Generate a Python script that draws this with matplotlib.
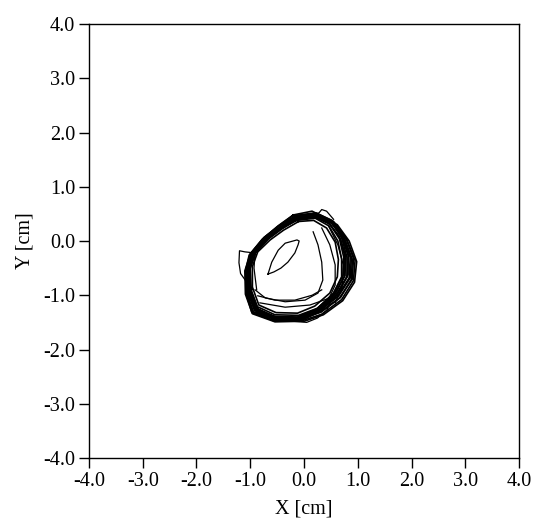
import matplotlib.pyplot as plt
import numpy as np

plt.rcParams['font.family'] = 'Liberation Serif'

# main band of sway loops (cm), clockwise from the top
loop_x = [
    [-0.15, 0.22, 0.52, 0.74, 0.86, 0.84, 0.62, 0.28, -0.10, -0.56, -0.92, -1.06, -1.07, -0.96, -0.70, -0.43],
    [-0.12, 0.20, 0.48, 0.68, 0.78, 0.76, 0.57, 0.25, -0.10, -0.54, -0.87, -1.00, -1.01, -0.90, -0.66, -0.40],
    [-0.18, 0.18, 0.50, 0.72, 0.83, 0.80, 0.60, 0.27, -0.08, -0.52, -0.89, -1.03, -1.04, -0.93, -0.69, -0.44],
    [-0.10, 0.25, 0.55, 0.78, 0.92, 0.90, 0.66, 0.30, -0.05, -0.50, -0.86, -1.01, -1.03, -0.93, -0.68, -0.40],
    [-0.14, 0.21, 0.46, 0.63, 0.70, 0.70, 0.54, 0.24, -0.12, -0.56, -0.90, -1.03, -1.03, -0.92, -0.67, -0.42],
    [-0.16, 0.19, 0.47, 0.66, 0.74, 0.73, 0.55, 0.22, -0.14, -0.58, -0.92, -1.05, -1.06, -0.95, -0.71, -0.45],
    [-0.08, 0.28, 0.58, 0.80, 0.95, 0.92, 0.70, 0.33, -0.04, -0.48, -0.84, -0.98, -1.00, -0.90, -0.66, -0.38],
    [-0.10, 0.18, 0.42, 0.58, 0.64, 0.62, 0.48, 0.20, -0.12, -0.52, -0.84, -0.96, -0.96, -0.86, -0.63, -0.38],
    [-0.20, 0.15, 0.45, 0.70, 0.82, 0.82, 0.62, 0.30, -0.08, -0.54, -0.96, -1.09, -1.10, -1.00, -0.75, -0.48],
    [-0.12, 0.24, 0.52, 0.74, 0.88, 0.86, 0.64, 0.28, -0.08, -0.52, -0.94, -1.06, -1.06, -0.97, -0.72, -0.44],
    [-0.17, 0.20, 0.50, 0.70, 0.80, 0.80, 0.60, 0.26, -0.10, -0.56, -0.97, -1.08, -1.08, -0.98, -0.74, -0.46],
    [-0.06, 0.30, 0.62, 0.84, 0.98, 0.94, 0.72, 0.36, 0.00, -0.46, -0.88, -1.03, -1.04, -0.94, -0.70, -0.40],
    [-0.22, 0.12, 0.42, 0.66, 0.76, 0.76, 0.58, 0.24, -0.14, -0.60, -0.95, -1.07, -1.09, -1.02, -0.78, -0.50],
    [-0.14, 0.22, 0.54, 0.76, 0.90, 0.88, 0.68, 0.32, -0.06, -0.50, -0.90, -1.04, -1.05, -0.95, -0.72, -0.46],
]
loop_y = [
    [0.47, 0.52, 0.38, 0.08, -0.30, -0.68, -1.02, -1.30, -1.45, -1.44, -1.28, -0.92, -0.50, -0.20, 0.09, 0.30],
    [0.40, 0.44, 0.31, 0.04, -0.30, -0.64, -0.97, -1.24, -1.37, -1.36, -1.21, -0.86, -0.48, -0.21, 0.04, 0.23],
    [0.43, 0.49, 0.35, 0.06, -0.28, -0.66, -0.99, -1.27, -1.41, -1.40, -1.25, -0.89, -0.49, -0.22, 0.06, 0.26],
    [0.44, 0.50, 0.36, 0.05, -0.32, -0.70, -1.05, -1.31, -1.44, -1.42, -1.26, -0.90, -0.47, -0.19, 0.07, 0.28],
    [0.38, 0.42, 0.28, 0.00, -0.33, -0.66, -0.98, -1.25, -1.40, -1.39, -1.23, -0.87, -0.47, -0.18, 0.06, 0.23],
    [0.42, 0.46, 0.33, 0.04, -0.30, -0.63, -0.96, -1.27, -1.43, -1.42, -1.26, -0.91, -0.52, -0.23, 0.03, 0.24],
    [0.45, 0.48, 0.32, 0.02, -0.36, -0.73, -1.08, -1.35, -1.47, -1.45, -1.29, -0.93, -0.51, -0.22, 0.05, 0.27],
    [0.36, 0.38, 0.24, -0.02, -0.34, -0.66, -0.96, -1.20, -1.33, -1.32, -1.18, -0.85, -0.47, -0.20, 0.02, 0.20],
    [0.48, 0.55, 0.40, 0.10, -0.26, -0.62, -0.98, -1.30, -1.48, -1.49, -1.34, -0.98, -0.55, -0.24, 0.05, 0.28],
    [0.41, 0.47, 0.34, 0.04, -0.32, -0.68, -1.02, -1.29, -1.42, -1.44, -1.31, -0.96, -0.53, -0.24, 0.04, 0.25],
    [0.45, 0.50, 0.37, 0.06, -0.30, -0.66, -1.00, -1.30, -1.46, -1.47, -1.32, -0.96, -0.52, -0.22, 0.07, 0.28],
    [0.42, 0.46, 0.30, 0.00, -0.38, -0.76, -1.10, -1.36, -1.48, -1.47, -1.32, -0.95, -0.50, -0.20, 0.06, 0.26],
    [0.46, 0.50, 0.38, 0.08, -0.28, -0.64, -0.98, -1.28, -1.44, -1.45, -1.30, -0.97, -0.56, -0.26, 0.03, 0.26],
    [0.39, 0.45, 0.32, 0.03, -0.34, -0.71, -1.04, -1.31, -1.43, -1.41, -1.27, -0.93, -0.50, -0.22, 0.01, 0.21],
]

# inner contours and stray strokes (open paths)
inner_x = [
    [0.17, 0.26, 0.33, 0.35, 0.26, 0.02, -0.35, -0.72, -0.91],
    [0.33, 0.48, 0.58, 0.58, 0.45],
    [0.45, 0.63, 0.73, 0.71, 0.58],
    [-0.86, -0.54, -0.17, 0.15, 0.33],
    [-0.82, -0.35, 0.11, 0.48],
    [-0.91, -0.93, -0.88],
    [-0.92, -1.10, -1.20, -1.21, -1.18, -1.05, -0.95],
    [0.15, 0.28, 0.33, 0.42, 0.55],
    [-0.20, 0.05, 0.25, 0.42, 0.50],
]
inner_y = [
    [0.17, -0.07, -0.39, -0.72, -0.96, -1.09, -1.12, -1.05, -0.90],
    [0.24, -0.07, -0.44, -0.81, -1.09],
    [0.29, -0.07, -0.44, -0.85, -1.14],
    [-1.01, -1.09, -1.09, -1.00, -0.90],
    [-1.14, -1.22, -1.18, -1.05],
    [-0.22, -0.50, -0.90],
    [-0.22, -0.20, -0.18, -0.40, -0.60, -0.78, -0.90],
    [0.48, 0.52, 0.58, 0.55, 0.40],
    [-1.48, -1.50, -1.42, -1.28, -1.12],
]

# small closed loop ("eye") inside
eye_x = [-0.67, -0.60, -0.48, -0.35, -0.13, -0.09, -0.11, -0.17, -0.30, -0.43, -0.56, -0.67]
eye_y = [-0.61, -0.39, -0.17, -0.04, 0.02, 0.00, -0.07, -0.22, -0.39, -0.50, -0.57, -0.61]

ticks = [-4.0, -3.0, -2.0, -1.0, 0.0, 1.0, 2.0, 3.0, 4.0]
tick_labels = ['-4.0', '-3.0', '-2.0', '-1.0', '0.0', '1.0', '2.0', '3.0', '4.0']

fig = plt.figure(figsize=(5.38, 5.22), dpi=100)
ax = fig.add_axes([0.1654, 0.1226, 0.7993, 0.8314])

for xs, ys in zip(loop_x, loop_y):
    ax.plot(xs + xs[:1], ys + ys[:1], color='black', lw=1.2)
for xs, ys in zip(inner_x, inner_y):
    ax.plot(xs, ys, color='black', lw=0.9)
ax.plot(eye_x, eye_y, color='black', lw=0.9)

ax.set_xlim(-4, 4)
ax.set_ylim(-4, 4)
ax.set_xticks(ticks)
ax.set_xticklabels(tick_labels)
ax.set_yticks(ticks)
ax.set_yticklabels(tick_labels)
ax.tick_params(direction='out', length=7, width=1, labelsize=14.5, pad=3,
               top=False, right=False)
for s in ax.spines.values():
    s.set_linewidth(1)
ax.set_xlabel('X [cm]', fontsize=14.5, labelpad=6)
ax.set_ylabel('Y [cm]', fontsize=14.5, labelpad=6)

fig.savefig('out.png', dpi=100)
